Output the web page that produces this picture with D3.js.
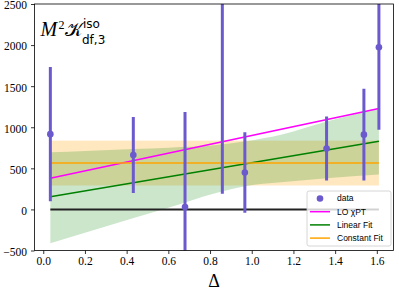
<!DOCTYPE html>
<html>
<head>
<meta charset="utf-8">
<script src="https://cdn.jsdelivr.net/npm/d3@7"></script>
<style>
  body { margin: 0; background: #fff; }
  svg text { fill: #000; }
</style>
</head>
<body>
<div id="chart"></div>
<script>
// measured data points
const deltas = [0.034, 0.432, 0.68, 0.859, 0.967, 1.359, 1.538, 1.61];
const values = [916, 663, 28, 2800, 449, 742, 910, 1974];
const errors = [816, 462, 1158, 2610, 489, 390, 558, 1003];

// LO chiPT line (end points)
const loX = [0.034, 1.61];
const loY = [380, 1228];

// linear fit + band
const linX = [0.034, 1.61];
const linY = [154, 829];
const bandX = [0.034, 0.2, 0.43, 0.6, 0.82, 0.97, 1.14, 1.36, 1.61];
const bandHi = [695, 712, 735, 752, 780, 830, 910, 1071, 1234];
const bandLo = [-413, -285, -109, 20, 194, 283, 330, 380, 425];

// constant fit
const constVal = 564;
const constErr = 273;

const xTicks = [0, 0.2, 0.4, 0.6, 0.8, 1.0, 1.2, 1.4, 1.6];
const yTicks = [-500, 0, 500, 1000, 1500, 2000, 2500];

const W = 399, H = 291;
const m = { left: 34.5, right: 5.5, top: 4, bottom: 40.5 };

const svg = d3.select('#chart').append('svg')
  .attr('width', W).attr('height', H);

const x = d3.scaleLinear().domain([-0.042, 1.68]).range([m.left, W - m.right]);
const y = d3.scaleLinear().domain([-500, 2500]).range([H - m.bottom, m.top]);

svg.append('clipPath').attr('id', 'clip')
  .append('rect')
  .attr('x', m.left).attr('y', m.top)
  .attr('width', W - m.left - m.right).attr('height', H - m.top - m.bottom);

const g = svg.append('g').attr('clip-path', 'url(#clip)');

// constant fit band
const cx0 = d3.min(deltas), cx1 = d3.max(deltas);
g.append('rect')
  .attr('x', x(cx0)).attr('width', x(cx1) - x(cx0))
  .attr('y', y(constVal + constErr)).attr('height', y(constVal - constErr) - y(constVal + constErr))
  .attr('fill', 'orange').attr('fill-opacity', 0.25);

// linear fit band
const band = bandX.map((d, i) => ({ x: d, hi: bandHi[i], lo: bandLo[i] }));
g.append('path')
  .datum(band)
  .attr('fill', 'green').attr('fill-opacity', 0.2)
  .attr('d', d3.area().x(d => x(d.x)).y0(d => y(d.lo)).y1(d => y(d.hi)).curve(d3.curveMonotoneX));

// zero line
g.append('line')
  .attr('x1', x(cx0)).attr('x2', x(cx1))
  .attr('y1', y(0)).attr('y2', y(0))
  .attr('stroke', '#222').attr('stroke-width', 2);

const line = d3.line().x(d => x(d[0])).y(d => y(d[1]));

g.append('path').datum(d3.zip(loX, loY))
  .attr('d', line).attr('fill', 'none')
  .attr('stroke', '#ff00ff').attr('stroke-width', 1.5);

g.append('path').datum(d3.zip(linX, linY))
  .attr('d', line).attr('fill', 'none')
  .attr('stroke', 'green').attr('stroke-width', 1.5);

g.append('path').datum([[cx0, constVal], [cx1, constVal]])
  .attr('d', line).attr('fill', 'none')
  .attr('stroke', 'orange').attr('stroke-width', 1.5);

// data with error bars
const pts = deltas.map((d, i) => ({ x: d, v: values[i], e: errors[i] }));
g.selectAll('.err').data(pts).enter().append('line')
  .attr('x1', d => x(d.x)).attr('x2', d => x(d.x))
  .attr('y1', d => y(d.v - d.e)).attr('y2', d => y(d.v + d.e))
  .attr('stroke', 'slateblue').attr('stroke-width', 3);
g.selectAll('.pt').data(pts).enter().append('circle')
  .attr('cx', d => x(d.x)).attr('cy', d => y(d.v)).attr('r', 3.3)
  .attr('fill', 'slateblue');

// axes
const fmtX = d3.format('.1f');
const xAxis = svg.append('g')
  .attr('transform', `translate(0,${H - m.bottom})`)
  .call(d3.axisBottom(x).tickValues(xTicks).tickFormat(fmtX).tickSize(3.5).tickPadding(3));
const yAxis = svg.append('g')
  .attr('transform', `translate(${m.left},0)`)
  .call(d3.axisLeft(y).tickValues(yTicks).tickFormat(d3.format('d')).tickSize(3.5).tickPadding(4));
[xAxis, yAxis].forEach(a => {
  a.selectAll('text').attr('font-family', 'Liberation Serif, serif').attr('font-size', 11.5);
  a.select('.domain').remove();
  a.selectAll('line').attr('stroke', '#000').attr('stroke-width', 0.8);
});
yAxis.selectAll('text').attr('dy', '0.42em');

svg.append('rect')
  .attr('x', m.left).attr('y', m.top)
  .attr('width', W - m.left - m.right).attr('height', H - m.top - m.bottom)
  .attr('fill', 'none').attr('stroke', '#000').attr('stroke-width', 0.8);

// x label
svg.append('text')
  .attr('x', (m.left + W - m.right) / 2).attr('y', 286.5)
  .attr('text-anchor', 'middle')
  .attr('font-family', 'Liberation Serif, serif').attr('font-size', 18)
  .text('Δ');

// panel label
const lab = svg.append('g').attr('font-family', 'Liberation Serif, serif');
lab.append('text').attr('x', 40.5).attr('y', 36).attr('font-size', 20).attr('font-style', 'italic').text('M');
lab.append('text').attr('x', 58.5).attr('y', 29).attr('font-size', 12).text('2');
lab.append('text').attr('x', 65).attr('y', 36).attr('font-size', 19).text('𝒦');
lab.append('text').attr('x', 83).attr('y', 28).attr('font-size', 12).attr('font-family', 'DejaVu Sans, sans-serif').text('iso');
lab.append('text').attr('x', 82).attr('y', 44).attr('font-size', 12).attr('font-family', 'DejaVu Sans, sans-serif').text('df,3');

// legend
const legItems = [
  { name: 'data', type: 'dot', color: 'slateblue' },
  { name: 'LO χPT', type: 'line', color: '#ff00ff' },
  { name: 'Linear Fit', type: 'line', color: 'green' },
  { name: 'Constant Fit', type: 'line', color: 'orange' }
];
const leg = svg.append('g').attr('transform', 'translate(307,191)');
leg.append('rect')
  .attr('width', 84).attr('height', 55).attr('rx', 2)
  .attr('fill', '#fff').attr('fill-opacity', 0.8)
  .attr('stroke', '#ccc').attr('stroke-width', 0.8);
legItems.forEach((d, i) => {
  const row = leg.append('g').attr('transform', `translate(0,${7.5 + i * 13.2})`);
  if (d.type === 'dot') {
    row.append('circle').attr('cx', 13).attr('cy', 0).attr('r', 3.3).attr('fill', d.color);
  } else {
    row.append('line').attr('x1', 3).attr('x2', 23).attr('y1', 0).attr('y2', 0)
      .attr('stroke', d.color).attr('stroke-width', 1.5);
  }
  row.append('text').attr('x', 30).attr('y', 0).attr('dy', '0.35em')
    .attr('font-family', 'Liberation Sans, sans-serif').attr('font-size', 8.5)
    .text(d.name);
});
</script>
</body>
</html>
